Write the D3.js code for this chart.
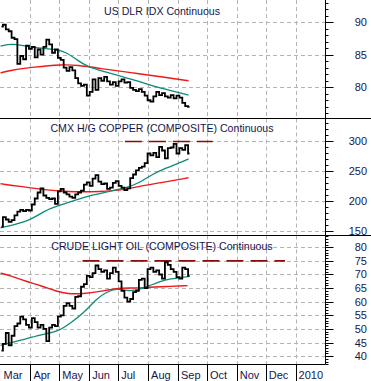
<!DOCTYPE html>
<html><head><meta charset="utf-8">
<script src="https://cdn.jsdelivr.net/npm/d3@7"></script>
<style>html,body{margin:0;padding:0;background:#fff;}svg{display:block;font-family:Arial,"Liberation Sans",sans-serif;}</style>
</head><body>
<script>
// ---- data ----
const monthLabels = ["Mar","Apr","May","Jun","Jul","Aug","Sep","Oct","Nov","Dec","2010"];
const monthStarts = ["2009-03-01","2009-04-01","2009-05-01","2009-06-01","2009-07-01","2009-08-01","2009-09-01","2009-10-01","2009-11-01","2009-12-01","2010-01-01"];
const priceStart = "2009-03-02";   // first sample; samples every 3 days
const priceStepDays = 3;

const dxyTitle = "US DLR IDX Continuous";
const dxyTicks = [80, 85, 90];
const dxyPrice = [89.3,89.6,88.9,88.6,87.6,87.4,83.6,84.8,84.3,86.4,85.9,86.2,84.6,85.8,85.0,86.2,87.3,86.6,85.3,85.8,
  84.5,84.2,83.0,82.5,83.1,82.6,81.4,80.6,80.2,80.4,78.7,79.3,81.2,79.6,81.4,81.0,81.6,80.9,80.4,80.8,
  80.2,80.9,81.2,80.7,80.8,79.9,79.6,79.4,79.7,79.3,78.7,78.0,77.8,78.6,79.3,78.8,79.1,78.6,78.4,78.8,
  78.3,78.7,78.4,77.6,77.1,77.0];
const dxyMAfastDates = ["2009-03-01","2009-03-14","2009-04-04","2009-04-28","2009-05-09","2009-05-19","2009-05-31","2009-06-12","2009-07-16","2009-08-20","2009-09-12"];
const dxyMAfast = [86.3,86.8,86.0,85.9,85.3,84.2,83.1,82.6,81.2,79.6,78.8];
const dxyMAslowDates = ["2009-03-01","2009-03-11","2009-04-04","2009-05-05","2009-05-19","2009-06-12","2009-07-16","2009-08-20","2009-09-12"];
const dxyMAslow = [82.2,82.6,83.1,83.5,83.4,82.9,82.2,81.5,81.0];

const cuTitle = "CMX H/G COPPER (COMPOSITE) Continuous";
const cuTicks = [150, 200, 250, 300];
const cuPrice = [158,174,170,166,169,177,183,186,184,186,185,195,205,215,222,210,206,204,205,196,
  217,221,215,212,208,206,212,215,218,228,232,226,238,244,233,229,230,221,223,231,
  234,226,223,219,222,239,245,252,256,258,264,280,277,281,274,291,285,272,289,290,
  296,280,289,286,294,280];
const cuMAfastDates = ["2009-03-01","2009-04-01","2009-04-15","2009-04-28","2009-05-15","2009-05-30","2009-06-12","2009-06-25","2009-07-10","2009-07-23","2009-08-05","2009-08-20","2009-09-02","2009-09-12"];
const cuMAfast = [156,168,184,192,200.5,209,213,218,223,231,245,256,264,271];
const cuMAslowDates = ["2009-03-01","2009-03-21","2009-04-12","2009-05-09","2009-06-12","2009-07-10","2009-07-23","2009-08-13","2009-09-12"];
const cuMAslow = [229.5,225.5,220,216,216,220,225.5,231,239.5];
const cuResistance = {from:"2009-07-08", to:"2009-10-07", value:300};

const oilTitle = "CRUDE LIGHT OIL (COMPOSITE) Continuous";
const oilTicks = [40,45,50,55,60,65,70,75,80];
const oilPrice = [42,44.5,48.5,44,47.5,51,52,54.5,53.5,51.5,50.5,54,52.5,50.5,51.5,50,45.5,50.5,51.5,51,
  54.5,55,58.5,59.5,58.5,57.5,61.8,62,65.5,66.5,69.5,69,70.5,73.3,72,71,71.5,68.5,70.5,72.5,
  71,67.5,64,61.5,60,61,63.5,64,68,68.5,65,72,72.5,71,71.5,70,68.5,74.5,73.5,72,
  71,69,68.5,72.5,72,69.5];
const oilMAfastDates = ["2009-03-01","2009-03-22","2009-04-12","2009-04-29","2009-05-12","2009-05-26","2009-06-09","2009-06-19","2009-06-29","2009-07-12","2009-07-23","2009-08-02","2009-08-13","2009-08-23","2009-09-13"];
const oilMAfast = [44,45.8,47.9,48.9,52,55.7,61.3,63.5,65,63.8,64.5,65.8,67.4,68.4,69.3];
const oilMAslowDates = ["2009-03-01","2009-03-11","2009-03-28","2009-04-12","2009-04-29","2009-05-09","2009-05-26","2009-06-12","2009-06-29","2009-07-16","2009-08-02","2009-08-20","2009-09-11"];
const oilMAslow = [70.5,69.6,67.4,65.9,63.7,62.9,62.9,63.7,65,65,65.3,65.6,65.9];
const oilResistance = {from:"2009-05-25", to:"2009-12-21", value:75};

// ---- layout ----
const W = 371, H = 381, axisX = 325.5;
const textCol = "#16164e";
const parse = d3.timeParse("%Y-%m-%d");
const x = d3.scaleTime().domain([parse("2009-03-01"), parse("2010-02-01")]).range([0.5, axisX]);
const priceDates = dxyPrice.map((_, i) => d3.timeDay.offset(parse(priceStart), i * priceStepDays));

const svg = d3.select("body").append("svg").attr("width", W).attr("height", H);
svg.append("rect").attr("width", W).attr("height", H).attr("fill", "#fff");

const panels = [
  {title: dxyTitle, top: 0, bottom: 118.5, domain: [75.2, 93.4], ticks: dxyTicks, minor: 1,
   price: dxyPrice, fast: [dxyMAfastDates, dxyMAfast], slow: [dxyMAslowDates, dxyMAslow], titleY: 15},
  {title: cuTitle, top: 118.5, bottom: 235.5, domain: [143.3, 338.3], ticks: cuTicks, minor: 10,
   price: cuPrice, fast: [cuMAfastDates, cuMAfast], slow: [cuMAslowDates, cuMAslow], res: cuResistance, titleY: 132},
  {title: oilTitle, top: 235.5, bottom: 364.5, domain: [36.93, 84.33], ticks: oilTicks, minor: 1,
   price: oilPrice, fast: [oilMAfastDates, oilMAfast], slow: [oilMAslowDates, oilMAslow], res: oilResistance, titleY: 250}
];

panels.forEach((p, k) => {
  const y = d3.scaleLinear().domain(p.domain).range([p.bottom, p.top]);
  const g = svg.append("g");
  const clipId = "clip" + k;
  svg.append("clipPath").attr("id", clipId).append("rect")
    .attr("x", 0).attr("y", p.top).attr("width", axisX).attr("height", p.bottom - p.top);
  const grid = g.append("g").attr("clip-path", `url(#${clipId})`)
    .attr("stroke", "#b4b4b4").attr("stroke-width", 1).attr("stroke-dasharray", "4,3");
  monthStarts.slice(1).concat(["2010-02-01"]).forEach(d => {
    const xx = Math.round(x(parse(d))) + 0.5;
    grid.append("line").attr("x1", xx).attr("x2", xx).attr("y1", p.top).attr("y2", p.bottom);
  });
  p.ticks.forEach(t => {
    const yy = Math.round(y(t)) + 0.5;
    grid.append("line").attr("x1", 0).attr("x2", axisX).attr("y1", yy).attr("y2", yy);
  });
  g.append("text").attr("x", 162).attr("y", p.titleY).attr("text-anchor", "middle")
    .attr("font-size", "10.6px").attr("fill", textCol).text(p.title);

  const plot = g.append("g").attr("clip-path", `url(#${clipId})`);
  if (p.res) {
    plot.append("line").attr("x1", x(parse(p.res.from))).attr("x2", x(parse(p.res.to)))
      .attr("y1", y(p.res.value)).attr("y2", y(p.res.value))
      .attr("stroke", "#8b0a0a").attr("stroke-width", 1.6).attr("stroke-dasharray", "17,7");
  }
  const maLine = d3.line().x(d => x(d[0])).y(d => y(d[1])).curve(d3.curveBasis);
  const slowPts = p.slow[0].map((d, i) => [parse(d), p.slow[1][i]]);
  const fastPts = p.fast[0].map((d, i) => [parse(d), p.fast[1][i]]);
  plot.append("path").attr("d", maLine(slowPts)).attr("fill", "none").attr("stroke", "#f01818").attr("stroke-width", 1.4);
  plot.append("path").attr("d", maLine(fastPts)).attr("fill", "none").attr("stroke", "#0e8a78").attr("stroke-width", 1.3);
  const priceLine = d3.line().x((d, i) => x(priceDates[i])).y(d => y(d)).curve(d3.curveStep);
  plot.append("path").attr("d", priceLine(p.price)).attr("fill", "none").attr("stroke", "#000")
    .attr("stroke-width", 1.8).attr("stroke-linejoin", "miter");

  const ax = g.append("g").attr("stroke", "#000").attr("stroke-width", 1);
  ax.append("line").attr("x1", axisX).attr("x2", axisX).attr("y1", p.top).attr("y2", p.bottom);
  const minorTicks = d3.range(Math.ceil(p.domain[0] / p.minor) * p.minor, p.domain[1], p.minor);
  minorTicks.forEach(t => {
    const yy = Math.round(y(t)) + 0.5;
    const major = p.ticks.includes(Math.round(t * 100) / 100);
    ax.append("line").attr("x1", axisX).attr("x2", axisX + (major ? 8 : 3)).attr("y1", yy).attr("y2", yy);
  });
  p.ticks.forEach(t => {
    g.append("text").attr("x", 367).attr("y", y(t) + 4).attr("text-anchor", "end")
      .attr("font-size", "11px").attr("fill", textCol).text(t);
  });
});

[118.5, 235.5].forEach(yy => {
  svg.append("line").attr("x1", 0).attr("x2", W).attr("y1", yy).attr("y2", yy).attr("stroke", "#000");
});
svg.append("line").attr("x1", 0).attr("x2", axisX).attr("y1", 364.5).attr("y2", 364.5).attr("stroke", "#000");
monthStarts.forEach((d, i) => {
  const xx = Math.round(x(parse(d))) + 0.5;
  if (i > 0) svg.append("line").attr("x1", xx).attr("x2", xx).attr("y1", 364.5).attr("y2", H).attr("stroke", "#000");
  svg.append("text").attr("x", x(parse(d)) + 3).attr("y", 378.5).attr("font-size", "11px")
    .attr("fill", textCol).text(monthLabels[i]);
});
</script>
</body></html>
